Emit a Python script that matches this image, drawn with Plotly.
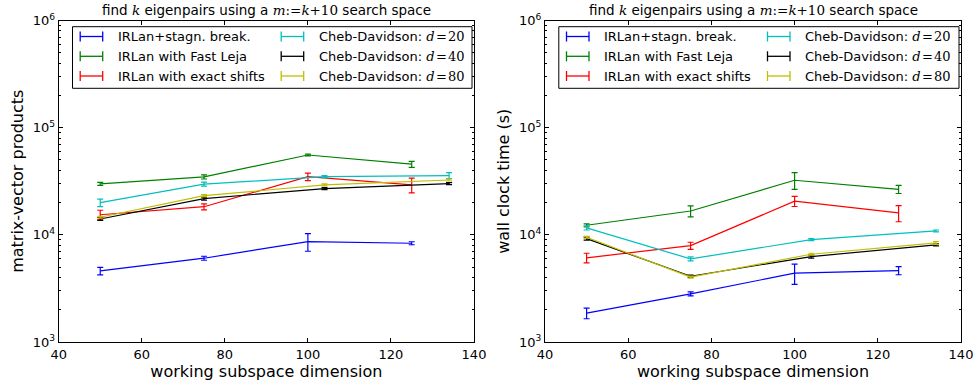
import plotly.graph_objects as go

W, H = 977, 383

# working subspace dimensions
x_irlan = [50, 75, 100, 125]
x_cheb = [50, 75, 104, 134]

SERIF = "font-family:DejaVu Serif"
series_names = [
    "IRLan+stagn. break.",
    "IRLan with Fast Leja",
    "IRLan with exact shifts",
    f"Cheb-Davidson: <i style='{SERIF}'>d</i><span style='{SERIF}'>&#8202;=&#8202;20</span>",
    f"Cheb-Davidson: <i style='{SERIF}'>d</i><span style='{SERIF}'>&#8202;=&#8202;40</span>",
    f"Cheb-Davidson: <i style='{SERIF}'>d</i><span style='{SERIF}'>&#8202;=&#8202;80</span>",
]
series_colors = ["#0000ff", "#008000", "#ff0000", "#00bfbf", "#000000", "#bfbf00"]

# matrix-vector products (mean, std)
mv_stagn = [4600, 6050, 8650, 8350]
mv_stagn_err = [375, 260, 1620, 270]
mv_leja = [29900, 34700, 55600, 45600]
mv_leja_err = [960, 1500, 1100, 2950]
mv_exact = [15400, 18300, 34900, 29200]
mv_exact_err = [1560, 1180, 2790, 4580]
mv_d20 = [19960, 29700, 34900, 35700]
mv_d20_err = [1600, 1280, 750, 2300]
mv_d40 = [14060, 21800, 27000, 30100]
mv_d40_err = [450, 700, 580, 650]
mv_d80 = [14600, 23200, 29200, 32500]
mv_d80_err = [310, 500, 630, 700]

# wall clock time in seconds (mean, std)
wc_stagn = [1860, 2810, 4390, 4640]
wc_stagn_err = [212, 121, 948, 400]
wc_leja = [12280, 16700, 32300, 26600]
wc_leja_err = [393, 1970, 5780, 2290]
wc_exact = [6100, 7930, 20600, 16000]
wc_exact_err = [630, 600, 2210, 2750]
wc_d20 = [11600, 5960, 9020, 10870]
wc_d20_err = [500, 256, 190, 230]
wc_d40 = [9220, 4110, 6270, 8050]
wc_d40_err = [300, 90, 200, 170]
wc_d80 = [9490, 4040, 6590, 8400]
wc_d80_err = [200, 90, 140, 270]

x_ticks = [40, 60, 80, 100, 120, 140]
y_ticks = [1e3, 1e4, 1e5, 1e6]
y_ticktext = ["10<sup>3</sup>", "10<sup>4</sup>", "10<sup>5</sup>", "10<sup>6</sup>"]
y_minor = [m * 10 ** e for e in range(3, 6) for m in range(2, 10)]

title_text = (f"find <i style='{SERIF}'>k</i> eigenpairs using a "
              f"<i style='{SERIF}'>m</i><span style='{SERIF}'>:=</span>"
              f"<i style='{SERIF}'>k</i><span style='{SERIF}'>+10</span>"
              " search space")

panels = [
    dict(xs=[x_irlan] * 3 + [x_cheb] * 3,
         ys=[mv_stagn, mv_leja, mv_exact, mv_d20, mv_d40, mv_d80],
         es=[mv_stagn_err, mv_leja_err, mv_exact_err, mv_d20_err, mv_d40_err, mv_d80_err],
         ylabel="matrix-vector products"),
    dict(xs=[x_irlan] * 3 + [x_cheb] * 3,
         ys=[wc_stagn, wc_leja, wc_exact, wc_d20, wc_d40, wc_d80],
         es=[wc_stagn_err, wc_leja_err, wc_exact_err, wc_d20_err, wc_d40_err, wc_d80_err],
         ylabel="wall clock time (s)"),
]

# plot-area geometry in pixels
x_px = [(58.7, 474.0), (545.0, 961.0)]
y_px = (20.5, 342.0)

# legend layout in pixels (relative to each plot area's left edge)
leg_rows = [36.5, 56.3, 76.0]
leg_cols = [(21.5, 57.0), (222.5, 258.3)]   # (handle start, text start)
leg_handle_len = 22.5
leg_cap = 5.0


def px_x(p):
    return p / W


def px_y(p):
    return 1 - p / H


FONT = "DejaVu Sans"
fig = go.Figure()
shapes, annotations = [], []
layout = dict(
    width=W, height=H,
    margin=dict(l=0, r=0, t=0, b=0, autoexpand=False),
    paper_bgcolor="white", plot_bgcolor="white",
    font=dict(family=FONT, size=13, color="black"),
    showlegend=False,
)

for i, panel in enumerate(panels):
    xa = "x" if i == 0 else "x2"
    ya = "y" if i == 0 else "y2"
    for j in range(6):
        fig.add_trace(go.Scatter(
            x=panel["xs"][j], y=panel["ys"][j],
            mode="lines",
            name=series_names[j],
            line=dict(color=series_colors[j], width=1.2),
            error_y=dict(type="data", array=panel["es"][j], visible=True,
                         color=series_colors[j], thickness=1.2, width=3),
            xaxis=xa, yaxis=ya,
        ))

    x0, x1 = x_px[i]
    dom_x = [px_x(x0), px_x(x1)]
    dom_y = [px_y(y_px[1]), px_y(y_px[0])]
    axis_common = dict(
        showline=True, linecolor="black", linewidth=1, mirror="ticks",
        ticks="inside", ticklen=4, tickwidth=1, tickcolor="black",
        showgrid=False, zeroline=False, automargin=False,
        tickfont=dict(family=FONT, size=13),
    )
    xkey = "xaxis" if i == 0 else "xaxis2"
    ykey = "yaxis" if i == 0 else "yaxis2"
    layout[xkey] = dict(
        axis_common, domain=dom_x, range=[40, 140], tickvals=x_ticks,
        anchor=ya,
        title=dict(text="working subspace dimension", font=dict(size=16), standoff=5),
    )
    layout[ykey] = dict(
        axis_common, domain=dom_y, type="log", range=[3, 6],
        tickvals=y_ticks, ticktext=y_ticktext, anchor=xa,
        minor=dict(ticks="inside", ticklen=2, tickcolor="black", tickvals=y_minor),
        title=dict(text=panel["ylabel"], font=dict(size=16), standoff=5),
    )
    # panel title
    annotations.append(dict(
        text=title_text, xref="paper", yref="paper",
        x=(dom_x[0] + dom_x[1]) / 2, y=px_y(10.5), xanchor="center", yanchor="middle",
        showarrow=False, font=dict(size=13.5),
    ))
    # legend frame
    shapes.append(dict(
        type="rect", xref="paper", yref="paper",
        x0=px_x(x0 + 13.8), x1=px_x(x1 - 2.0), y0=px_y(88.3), y1=px_y(26.7),
        line=dict(color="black", width=1), fillcolor="white", layer="above",
    ))
    # legend entries: error-bar handle and label
    for j in range(6):
        col, row = divmod(j, 3)
        hx, tx = leg_cols[col]
        yy = leg_rows[row]
        sx0 = x0 + hx
        sx1 = sx0 + leg_handle_len
        c = series_colors[j]
        for (a0, b0, a1, b1) in [(sx0, yy, sx1, yy),
                                 (sx0, yy - leg_cap, sx0, yy + leg_cap),
                                 (sx1, yy - leg_cap, sx1, yy + leg_cap)]:
            shapes.append(dict(
                type="line", xref="paper", yref="paper",
                x0=px_x(a0), y0=px_y(b0), x1=px_x(a1), y1=px_y(b1),
                line=dict(color=c, width=1.3), layer="above",
            ))
        annotations.append(dict(
            text=series_names[j], xref="paper", yref="paper",
            x=px_x(x0 + tx), y=px_y(yy), xanchor="left", yanchor="middle",
            showarrow=False, font=dict(size=13),
        ))

layout["shapes"] = shapes
layout["annotations"] = annotations
fig.update_layout(**layout)
fig.write_html("out.html")
